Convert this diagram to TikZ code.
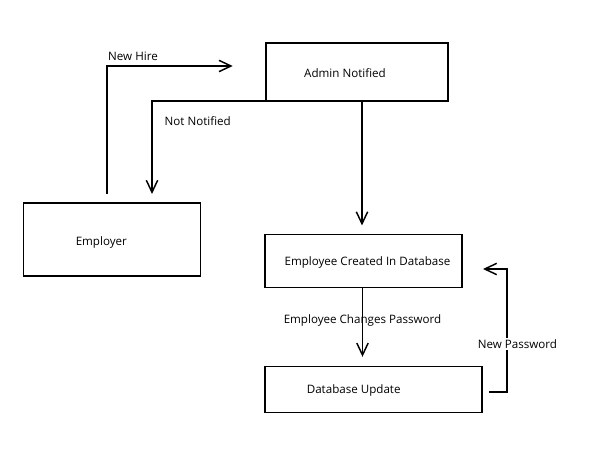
\documentclass[tikz,border=0pt]{standalone}
\usepackage{fontspec}
\setmainfont{Open Sans}
\usetikzlibrary{arrows.meta,calc}
\begin{document}
\begin{tikzpicture}[x=0.75pt,y=-0.75pt,
        box/.style={draw,line width=1.3pt,inner sep=0pt,outer sep=0pt},
        flow/.style={line width=1.3pt,-{Straight Barb[length=9pt,width=8.5pt,line width=1.1pt]}},
        txt/.style={font=\fontsize{8.7}{10}\selectfont}]
        \useasboundingbox (0,0) rectangle (608,453);

        % boxes
        \node[box,minimum width=136.5pt,minimum height=43.5pt,label={[txt,xshift=-9pt,yshift=-1pt]center:Admin Notified}] (admin) at (357,72) {};
        \node[box,minimum width=132.75pt,minimum height=54.75pt,label={[txt,xshift=-8pt,yshift=-2pt]center:Employer}] (employer) at (112,239.7) {};
        \node[box,minimum width=147.75pt,minimum height=39.75pt,label={[txt,xshift=3pt,yshift=-1pt]center:Employee Created In Database}] (created) at (363.5,261) {};
        \node[box,minimum width=162.75pt,minimum height=34.5pt,label={[txt,xshift=-15pt,yshift=-1pt]center:Database Update}] (dbupdate) at (373.7,389.5) {};

        % free ends
        \coordinate (hirestart) at (106.7,194);
        \coordinate (hireend) at (232.7,66);
        \coordinate (nnend) at (152,194);
        \coordinate (pwtop) at (506.7,269);
        \coordinate (pwend) at (483,269);

        % new hire / not notified
        \draw[flow] (hirestart) |- (hireend);
        \node[txt] (hirelbl) at (133,56) {New Hire};
        \draw[flow] (admin.south west) -| (nnend);
        \node[txt,anchor=west] (nnlbl) at (160,121) {Not Notified};

        % admin -> database
        \draw[flow] ($(admin.south -| created.north)+(-1.5,0)$) -- ($(created.north)+(-1.5,-9)$);
        \draw[flow] ($(created.south)+(-1,0)$) -- ($(created.south |- dbupdate.north)+(-1,-9.7)$);
        \node[txt] (changelbl) at (362.5,320) {Employee Changes Password};

        % new password loop
        \draw[flow] ($(dbupdate.east)+(7,2.2)$) -| (pwtop) -- (pwend);
        \node[txt,fill=white,inner sep=1pt] (pwlbl) at (517.5,344) {New Password};
    \end{tikzpicture}
\end{document}
